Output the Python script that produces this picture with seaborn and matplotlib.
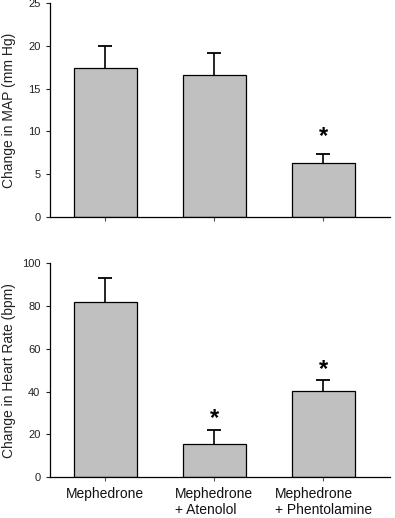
import matplotlib
matplotlib.use("Agg")
import matplotlib.pyplot as plt
import seaborn as sns
import numpy as np
import pandas as pd

categories = ["Mephedrone", "Mephedrone\n+ Atenolol", "Mephedrone\n+ Phentolamine"]
map_values = [17.4, 16.6, 6.35]
map_errors = [2.6, 2.6, 1.0]
map_stars = [None, None, 9.45]
hr_values = [81.8, 15.7, 40.3]
hr_errors = [11.2, 6.3, 5.2]
hr_stars = [None, 27.6, 50.5]
map_ticks = [0, 5, 10, 15, 20, 25]
hr_ticks = [0, 20, 40, 60, 80, 100]

sns.set_theme(style="ticks")
plt.rcParams['font.family'] = ['Liberation Sans', 'DejaVu Sans']

fig = plt.figure(figsize=(3.95, 5.18), dpi=100)
ax1 = fig.add_axes([0.127, 0.581, 0.86, 0.413])
ax2 = fig.add_axes([0.127, 0.0786, 0.86, 0.4131])

def panel(ax, values, errors, stars, ticks, ylabel, show_labels):
    df = pd.DataFrame({"cat": categories, "val": values})
    sns.barplot(data=df, x="cat", y="val", color="#c0c0c0", edgecolor="black",
                linewidth=0.9, width=0.58, saturation=1, ax=ax, errorbar=None)
    xs = np.arange(len(values))
    vals = np.array(values)
    errs = np.array(errors)
    ax.errorbar(xs, vals, yerr=[np.zeros(len(vals)), errs], fmt="none",
                ecolor="black", elinewidth=1.2, capsize=0, zorder=3)
    ax.plot(xs, vals + errs, linestyle="none", marker="_", markersize=10,
            markeredgewidth=1.3, color="black", zorder=3)
    for x, s in zip(xs, stars):
        if s is not None:
            ax.text(x, s, "*", ha="center", va="center", fontsize=17,
                    fontweight="bold", color="black")
    ax.set_xlim(-0.506, 2.61)
    ax.set_ylim(ticks[0], ticks[-1])
    ax.set_yticks(ticks)
    ax.set_ylabel(ylabel, fontsize=10, color="#222222")
    ax.yaxis.set_label_coords(-0.100, 0.5)
    ax.set_xlabel("")
    ax.tick_params(axis="y", labelsize=8, length=3, width=0.8, pad=4, colors="#222222")
    ax.tick_params(axis="x", labelsize=10, length=3, width=0.8, pad=4, color="#555555")
    if show_labels:
        for lab in ax.get_xticklabels():
            lab.set_multialignment("left")
            lab.set_color("#111111")
    else:
        ax.set_xticklabels([])
    sns.despine(ax=ax)
    for sp in ["left", "bottom"]:
        ax.spines[sp].set_linewidth(0.9)
        ax.spines[sp].set_color("black")

panel(ax1, map_values, map_errors, map_stars, map_ticks, "Change in MAP (mm Hg)", False)
panel(ax2, hr_values, hr_errors, hr_stars, hr_ticks, "Change in Heart Rate (bpm)", True)

fig.savefig("out.png", dpi=100)
